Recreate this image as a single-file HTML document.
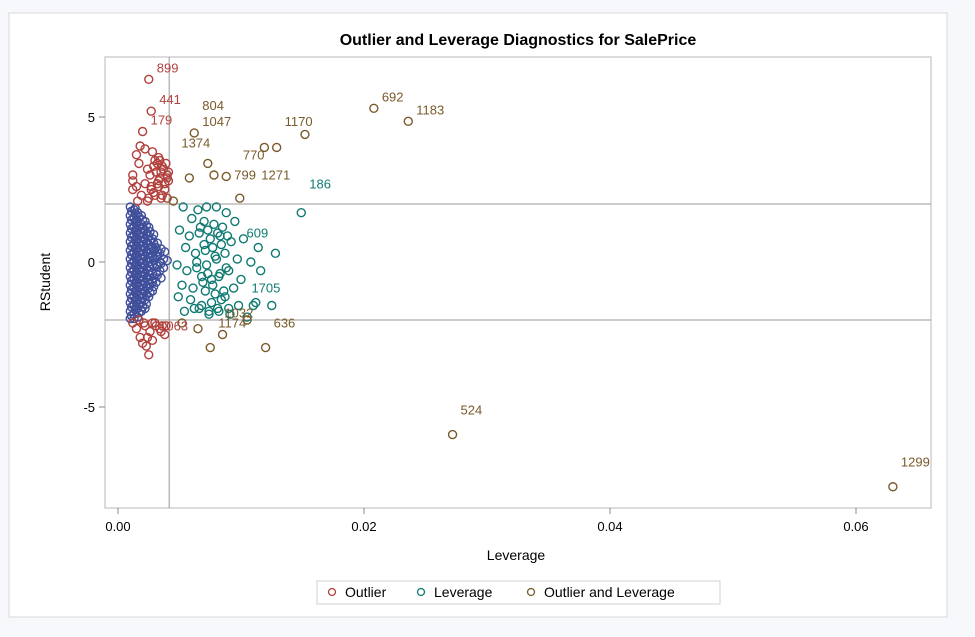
<!DOCTYPE html>
<html><head><meta charset="utf-8"><style>
body{margin:0;background:#f7f8fc;width:975px;height:632px;overflow:hidden;font-family:"Liberation Sans",sans-serif}
</style></head><body>
<svg width="975" height="632">
<rect x="9" y="13" width="938" height="604" fill="#fff" stroke="#d8d8d8"/>
<text x="518" y="45" text-anchor="middle" font-size="16" font-weight="bold">Outlier and Leverage Diagnostics for SalePrice</text>
<rect x="105" y="57" width="826" height="451" fill="none" stroke="#b8b8b8"/>
<g id="axes"></g>
<g id="marks"></g>
<text x="516" y="560" text-anchor="middle" font-size="14">Leverage</text>
<text transform="translate(50,282) rotate(-90)" text-anchor="middle" font-size="14">RStudent</text>
<g>
<rect x="317" y="581" width="403" height="23" fill="#fff" stroke="#d0d0d0"/>
<circle cx="332" cy="592" r="3.5" fill="none" stroke="#b2403c" stroke-width="1.3"/>
<text x="345" y="597" font-size="14">Outlier</text>
<circle cx="421" cy="592" r="3.5" fill="none" stroke="#0f7a72" stroke-width="1.3"/>
<text x="434" y="597" font-size="14">Leverage</text>
<circle cx="531" cy="592" r="3.5" fill="none" stroke="#7a5a2a" stroke-width="1.3"/>
<text x="544" y="597" font-size="14">Outlier and Leverage</text>
</g>
</svg>
<script>
const xTicks=[0,0.02,0.04,0.06];
const xTickLabels=["0.00","0.02","0.04","0.06"];
const yTicks=[5,0,-5];
const yTickLabels=["5","0","-5"];
const levCut=0.00416;
const rCuts=[2,-2];
const normLev=[0.0010,0.0010,0.0010,0.0010,0.0010,0.0010,0.0010,0.0010,0.0010,0.0010,0.0010,0.0010,0.0010,0.0010,
0.0013,0.0013,0.0013,0.0013,0.0013,0.0013,0.0013,0.0013,0.0013,0.0013,0.0013,0.0013,0.0013,0.0013,
0.0016,0.0016,0.0016,0.0016,0.0016,0.0016,0.0016,0.0016,0.0016,0.0016,0.0016,0.0016,0.0016,
0.0019,0.0019,0.0019,0.0019,0.0019,0.0019,0.0019,0.0019,0.0019,0.0019,0.0019,0.0019,
0.0022,0.0022,0.0022,0.0022,0.0022,0.0022,0.0022,0.0022,0.0022,0.0022,0.0022,
0.0025,0.0025,0.0025,0.0025,0.0025,0.0025,0.0025,0.0025,0.0025,
0.0028,0.0028,0.0028,0.0028,0.0028,0.0028,0.0028,
0.0031,0.0031,0.0031,0.0031,0.0031,0.0034,0.0034,0.0034,0.0037,0.0037];
const normR=[1.9,1.6,1.3,1.0,0.7,0.4,0.1,-0.2,-0.5,-0.8,-1.1,-1.4,-1.7,-1.95,
1.8,1.5,1.2,0.9,0.6,0.3,0.0,-0.3,-0.6,-0.9,-1.2,-1.5,-1.8,-1.95,
1.7,1.4,1.1,0.8,0.5,0.2,-0.1,-0.4,-0.7,-1.0,-1.3,-1.6,-1.9,
1.6,1.3,1.0,0.7,0.4,0.1,-0.2,-0.5,-0.8,-1.1,-1.4,-1.7,
1.4,1.1,0.8,0.5,0.2,-0.1,-0.4,-0.7,-1.0,-1.3,-1.6,
1.2,0.9,0.6,0.3,0.0,-0.3,-0.6,-0.9,-1.2,
0.8,0.5,0.2,-0.1,-0.4,-0.7,-1.0,
0.5,0.2,-0.1,-0.4,-0.7,0.3,0.0,-0.3,0.1,-0.2];
const normLev2=[0.0011,0.0011,0.0011,0.0011,0.0011,0.0011,0.0011,0.0011,0.0011,0.0011,0.0011,0.0011,0.0011,
0.0014,0.0014,0.0014,0.0014,0.0014,0.0014,0.0014,0.0014,0.0014,0.0014,0.0014,0.0014,0.0014,
0.0017,0.0017,0.0017,0.0017,0.0017,0.0017,0.0017,0.0017,0.0017,0.0017,0.0017,0.0017,
0.0020,0.0020,0.0020,0.0020,0.0020,0.0020,0.0020,0.0020,0.0020,0.0020,0.0020,
0.0023,0.0023,0.0023,0.0023,0.0023,0.0023,0.0023,0.0023,0.0023,0.0023,
0.0026,0.0026,0.0026,0.0026,0.0026,0.0026,0.0026,0.0026,
0.0029,0.0029,0.0029,0.0029,0.0029,0.0029,0.0032,0.0032,0.0032,0.0032,0.0035,0.0035,0.0035,0.0038,0.0040];
const normR2=[1.75,1.45,1.15,0.85,0.55,0.25,-0.05,-0.35,-0.65,-0.95,-1.25,-1.55,-1.85,
1.85,1.65,1.35,1.05,0.75,0.45,0.15,-0.15,-0.45,-0.75,-1.05,-1.35,-1.65,
1.55,1.25,0.95,0.65,0.35,0.05,-0.25,-0.55,-0.85,-1.15,-1.45,-1.75,
1.45,1.15,0.85,0.55,0.25,-0.05,-0.35,-0.65,-0.95,-1.25,-1.55,
1.25,0.95,0.65,0.35,0.05,-0.25,-0.55,-0.85,-1.15,-1.45,
1.05,0.75,0.45,0.15,-0.15,-0.45,-0.75,-1.05,
0.95,0.65,0.35,0.05,-0.55,-0.85,0.65,0.35,-0.15,-0.45,0.45,-0.05,-0.55,0.35,0.05];
const outLev=[0.0025,0.0027,0.0020,0.0018,0.0022,0.0015,0.0017,0.0028,0.0030,0.0033,0.0036,0.0024,0.0026,0.0031,0.0034,0.0037,0.0040,0.0012,0.0012,0.0015,0.0022,0.0027,0.0032,0.0038,0.0041,0.0019,0.0025,0.0030,0.0035,0.0012,0.0016,0.0024,0.0029,0.0033,0.0036,0.0040,
0.0012,0.0015,0.0018,0.0022,0.0026,0.0030,0.0034,0.0038,0.0020,0.0024,0.0028,0.0025,0.0031,0.0036,0.0017,0.0021,0.0023,
0.0032,0.0035,0.0039,0.0029,0.0034,0.0038,0.0041,0.0027,0.0033,0.0040,0.0028,0.0035,0.0039];
const outR=[6.3,5.2,4.5,4.0,3.9,3.7,3.4,3.8,3.5,3.6,3.3,3.2,3.0,3.1,2.9,3.2,3.0,3.0,2.8,2.6,2.7,2.5,2.7,2.5,2.8,2.3,2.2,2.3,2.2,2.5,2.1,2.1,2.4,2.6,2.3,2.2,
-2.1,-2.3,-2.6,-2.2,-2.4,-2.1,-2.3,-2.5,-2.8,-2.6,-2.7,-3.2,-2.2,-2.2,-2.0,-2.1,-2.9,
3.4,3.1,3.4,3.3,3.5,2.7,3.1,2.6,2.8,2.9,-2.1,-2.4,-2.2];
const levLev=[0.0149,0.0053,0.0065,0.0072,0.0080,0.0088,0.0060,0.0070,0.0078,0.0085,0.0095,0.0050,0.0058,0.0066,0.0075,0.0083,0.0092,0.0102,0.0114,0.0128,0.0055,0.0063,0.0071,0.0079,0.0087,0.0097,0.0108,0.0048,0.0056,0.0064,0.0073,0.0082,0.0090,0.0100,0.0116,0.0052,0.0061,0.0069,0.0077,0.0086,0.0094,0.0049,0.0059,0.0068,0.0076,0.0084,0.0098,0.0112,0.0054,0.0062,0.0074,0.0081,0.0091,0.0105,0.0110,0.0125,
0.0067,0.0073,0.0081,0.0089,0.0070,0.0077,0.0084,0.0064,0.0072,0.0080,0.0088,0.0068,0.0076,0.0083,0.0071,0.0079,0.0087,0.0066,0.0074,0.0082,0.0090];
const levR=[1.7,1.9,1.8,1.9,1.9,1.7,1.5,1.4,1.3,1.2,1.4,1.1,0.9,1.0,0.8,0.9,0.7,0.8,0.5,0.3,0.5,0.3,0.4,0.2,0.3,0.1,0.0,-0.1,-0.3,-0.2,-0.4,-0.5,-0.3,-0.6,-0.3,-0.8,-0.9,-0.7,-0.8,-1.0,-0.9,-1.2,-1.3,-1.5,-1.4,-1.3,-1.5,-1.4,-1.7,-1.6,-1.7,-1.6,-1.8,-1.9,-1.5,-1.5,
1.2,1.1,1.0,0.9,0.6,0.5,0.6,0.0,-0.1,0.1,-0.2,-0.5,-0.6,-0.4,-1.0,-1.1,-1.2,-1.6,-1.8,-1.7,-1.6];
const bothLev=[0.0208,0.0236,0.0152,0.0062,0.0119,0.0129,0.0073,0.0088,0.0078,0.0099,0.0058,0.0045,0.0075,0.0120,0.0272,0.0630,0.0105,0.0085,0.0065,0.0052];
const bothR=[5.3,4.85,4.4,4.45,3.95,3.95,3.4,2.95,3.0,2.2,2.9,2.1,-2.95,-2.95,-5.95,-7.75,-2.0,-2.5,-2.3,-2.1];
const labels=[["899",0.0025,6.3,"#b2403c"],["441",0.0027,5.2,"#b2403c"],["179",0.0020,4.5,"#b2403c"],["692",0.0208,5.3,"#7a5a2a"],["1183",0.0236,4.85,"#7a5a2a"],["804",0.0062,5.0,"#7a5a2a"],["1047",0.0062,4.45,"#7a5a2a"],["1170",0.0129,4.45,"#7a5a2a"],["1374",0.0045,3.7,"#7a5a2a"],["770",0.0095,3.3,"#7a5a2a"],["799",0.0088,2.6,"#7a5a2a"],["1271",0.0110,2.6,"#7a5a2a"],["186",0.0149,2.3,"#0f7a72"],["609",0.0098,0.6,"#0f7a72"],["1705",0.0102,-1.3,"#0f7a72"],["1032",0.0080,-2.15,"#7a5a2a"],["1174",0.0075,-2.5,"#7a5a2a"],["636",0.0120,-2.5,"#7a5a2a"],["1063",0.0027,-2.6,"#b2403c"],["524",0.0272,-5.5,"#7a5a2a"],["1299",0.0630,-7.3,"#7a5a2a"]];
const X=v=>118+v/0.02*246;
const Y=v=>262-v*29;
const NS="http://www.w3.org/2000/svg";
const axes=document.getElementById('axes'),marks=document.getElementById('marks');
function mk(tag,attrs,parent){const e=document.createElementNS(NS,tag);for(const k in attrs)e.setAttribute(k,attrs[k]);parent.appendChild(e);return e;}
xTicks.forEach((t,i)=>{
 const l=mk('line',{x1:X(t),x2:X(t),y1:508,y2:514,stroke:'#888'},axes);
 
 
 const tx=mk('text',{x:X(t),y:531,'text-anchor':'middle','font-size':13},axes);tx.textContent=xTickLabels[i];
 
 
});
yTicks.forEach((t,i)=>{
 const l=mk('line',{x1:99,x2:105,y1:Y(t),y2:Y(t),stroke:'#888'},axes);
 
 
 const tx=mk('text',{x:95,y:Y(t)+5,'text-anchor':'end','font-size':13},axes);tx.textContent=yTickLabels[i];
 
 
});
const vl=mk('line',{x1:X(levCut),x2:X(levCut),y1:57,y2:508,stroke:'#999'},axes);


rCuts.forEach(r=>{const h=mk('line',{x1:105,x2:931,y1:Y(r),y2:Y(r),stroke:'#999'},axes);
 
 });
function series(lx,ry,color,name){lx.forEach((v,i)=>{
 const c=mk('circle',{cx:X(v),cy:Y(ry[i]),r:4,fill:'none',stroke:color,'stroke-width':1.4},marks);
 
 });}
series(normLev,normR,'#3f4f9a','point-normal');
series(normLev2,normR2,'#3f4f9a','point-normal');
series(levLev,levR,'#0f7a72','point-leverage');
series(outLev,outR,'#b2403c','point-outlier');
series(bothLev,bothR,'#7a5a2a','point-outlier-and-leverage');
labels.forEach(l=>{const t=mk('text',{x:X(l[1])+8,y:Y(l[2])-7,'font-size':13,fill:l[3]},marks);t.textContent=l[0];
 
 });
</script>
</body></html>
